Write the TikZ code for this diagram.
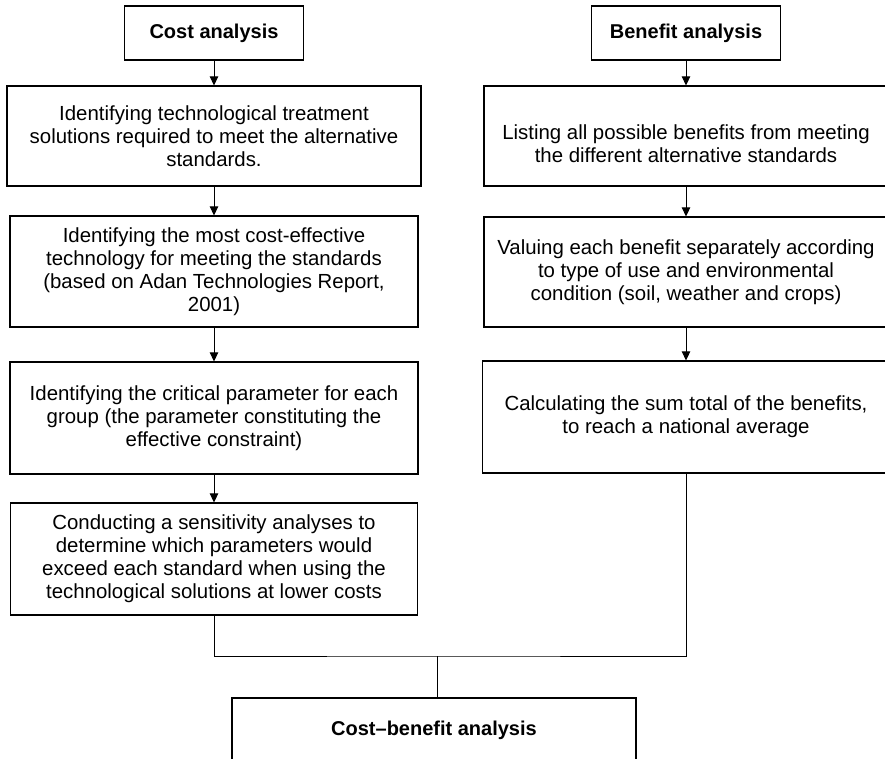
\documentclass[tikz,border=0pt]{standalone}
\usepackage{fontspec}
\setmainfont{Liberation Sans}
\usetikzlibrary{arrows.meta}

\begin{document}
\begin{tikzpicture}[x=1pt,y=-1pt]

      \useasboundingbox (0,0) rectangle (885,759);
      \clip (0,0) rectangle (885,759);

      \begin{scope}[every node/.style={draw,line width=1.2pt,inner sep=0pt,align=center,
          font=\fontsize{20.4}{23}\selectfont}]
        % cost side
        \node[minimum width=179pt,minimum height=54pt,font=\fontsize{20}{23}\selectfont\bfseries]
          (1) at (214,33) {Cost analysis};
        \node[minimum width=414pt,minimum height=100pt] (2) at (214,136)
          {Identifying technological treatment\\solutions required to meet the alternative\\standards.};
        \node[minimum width=408pt,minimum height=111pt] (3) at (214,271.5)
          {Identifying the most cost-effective\\technology for meeting the standards\\(based on Adan Technologies Report,\\2001)};
        \node[minimum width=408pt,minimum height=112pt] (4) at (214,418)
          {Identifying the critical parameter for each\\group (the parameter constituting the\\effective constraint)};
        \node[minimum width=407pt,minimum height=112pt] (5) at (214,559)
          {Conducting a sensitivity analyses to\\determine which parameters would\\exceed each standard when using the\\technological solutions at lower costs};
        % benefit side
        \node[minimum width=189pt,minimum height=54pt,font=\fontsize{20}{23}\selectfont\bfseries]
          (6) at (686,33) {Benefit analysis};
        \node[minimum width=404pt,minimum height=100pt] (7) at (686,136)
          {\rule{0pt}{30pt}Listing all possible benefits from meeting\\the different alternative standards};
        \node[minimum width=404pt,minimum height=110pt] (8) at (686,272)
          {Valuing each benefit separately according\\to type of use and environmental\\condition (soil, weather and crops)};
        \node[minimum width=407pt,minimum height=112pt] (9) at (686,417)
          {Calculating the sum total of the benefits,\\to reach a national average};
        % result
        \node[minimum width=404pt,minimum height=64pt,font=\fontsize{20}{23}\selectfont\bfseries]
          (10) at (434,730) {Cost--benefit analysis};
      \end{scope}

      \coordinate (m) at (437,656);

      \begin{scope}[every edge/.style={draw,line width=0.9pt,-{Triangle[length=9pt,width=8.5pt]}}]
        \path (1) edge (2);
        \path (2) edge (3);
        \path (3) edge (4);
        \path (4) edge (5);
        \path (6) edge (7);
        \path (7) edge (8);
        \path (8) edge (9);
      \end{scope}

      \draw[line width=0.9pt] (5.south) |- (m) -| (9.south);
      \draw[line width=0.9pt] (m) -- (m |- 10.north);

    \end{tikzpicture}
\end{document}
